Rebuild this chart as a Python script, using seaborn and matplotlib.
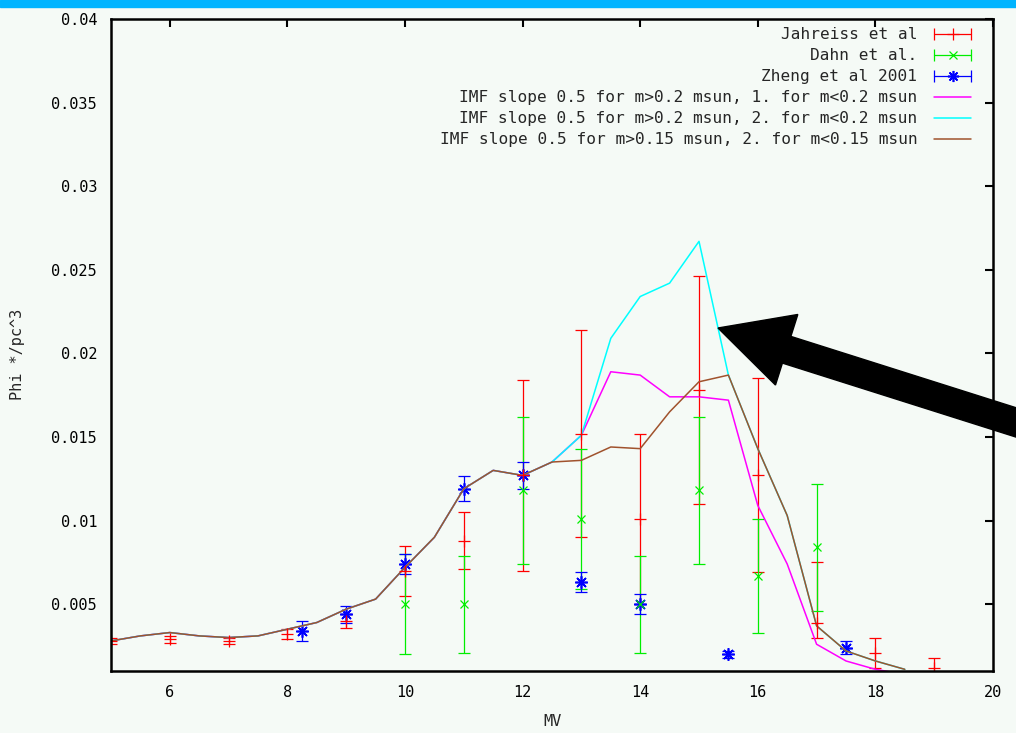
import matplotlib
matplotlib.use("Agg")
import matplotlib.pyplot as plt
import seaborn as sns
import pandas as pd
from matplotlib.lines import Line2D
from matplotlib.legend_handler import HandlerLine2D, HandlerTuple
from matplotlib.patches import FancyArrow, Rectangle
from matplotlib.transforms import IdentityTransform

# ---------------- data ----------------
mv_model = [5, 5.5, 6, 6.5, 7, 7.5, 8, 8.5, 9, 9.5, 10, 10.5, 11, 11.5, 12, 12.5,
            13, 13.5, 14, 14.5, 15, 15.5, 16, 16.5, 17, 17.5, 18, 18.5]
imf_015_2 = [0.0028, 0.0031, 0.0033, 0.0031, 0.0030, 0.0031, 0.0035, 0.0039, 0.0047, 0.0053,
             0.0072, 0.0090, 0.0119, 0.0130, 0.0127, 0.0135, 0.0136, 0.0144, 0.0143, 0.0165,
             0.0183, 0.0187, 0.0143, 0.0103, 0.0037, 0.0022, 0.0016, 0.0011]
imf_02_2 = [0.0028, 0.0031, 0.0033, 0.0031, 0.0030, 0.0031, 0.0035, 0.0039, 0.0047, 0.0053,
            0.0072, 0.0090, 0.0119, 0.0130, 0.0127, 0.0135, 0.0151, 0.0209, 0.0234, 0.0242,
            0.0267, 0.0187, 0.0143, 0.0103, 0.0037, 0.0022, 0.0016, 0.0011]
imf_02_1 = [0.0028, 0.0031, 0.0033, 0.0031, 0.0030, 0.0031, 0.0035, 0.0039, 0.0047, 0.0053,
            0.0072, 0.0090, 0.0119, 0.0130, 0.0127, 0.0135, 0.0151, 0.0189, 0.0187, 0.0174,
            0.0174, 0.0172, 0.0109, 0.0074, 0.0026, 0.0016, 0.0011, 0.0008]

jah_x = [5, 6, 7, 8, 9, 10, 11, 12, 13, 14, 15, 16, 17, 18, 19]
jah_y = [0.0028, 0.0029, 0.0028, 0.0032, 0.0040, 0.0070, 0.0088, 0.0127, 0.0152, 0.0101,
         0.0178, 0.0127, 0.0039, 0.0021, 0.0012]
jah_lo = [0.0002, 0.0002, 0.0002, 0.0003, 0.0004, 0.0015, 0.0017, 0.0057, 0.0062, 0.0051,
          0.0068, 0.0058, 0.0009, 0.0009, 0.0006]
jah_hi = [0.0002, 0.0002, 0.0002, 0.0003, 0.0004, 0.0015, 0.0017, 0.0057, 0.0062, 0.0051,
          0.0068, 0.0058, 0.0036, 0.0009, 0.0006]

dahn_x = [10, 11, 12, 13, 14, 15, 16, 17]
dahn_y = [0.0050, 0.0050, 0.0118, 0.0101, 0.0050, 0.0118, 0.0067, 0.0084]
dahn_err = [0.0030, 0.0029, 0.0044, 0.0042, 0.0029, 0.0044, 0.0034, 0.0038]

zheng_x = [8.25, 9, 10, 11, 12, 13, 14, 15.5, 17.5]
zheng_y = [0.0034, 0.0044, 0.0074, 0.0119, 0.0127, 0.0063, 0.0050, 0.0020, 0.0024]
zheng_err = [0.0006, 0.0005, 0.0006, 0.00075, 0.0008, 0.0006, 0.0006, 0.0002, 0.0004]

x_ticks = [6, 8, 10, 12, 14, 16, 18, 20]
y_ticks = [0.005, 0.01, 0.015, 0.02, 0.025, 0.03, 0.035, 0.04]
y_tick_labels = ["0.005", "0.01", "0.015", "0.02", "0.025", "0.03", "0.035", "0.04"]

labels = ["Jahreiss et al", "Dahn et al.", "Zheng et al 2001",
          "IMF slope 0.5 for m>0.2 msun, 1. for m<0.2 msun",
          "IMF slope 0.5 for m>0.2 msun, 2. for m<0.2 msun",
          "IMF slope 0.5 for m>0.15 msun, 2. for m<0.15 msun"]

# ---------------- style ----------------
sns.set_style("white")
BG = "#f5faf6"
plt.rcParams["font.family"] = ["DejaVu Sans Mono", "DejaVu Sans"]
plt.rcParams["font.size"] = 11

RED, GREEN, BLUE = "#ff0000", "#00ee00", "#0000ff"
MAG, CYAN, BROWN = "#ff00ff", "#00ffff", "#a0522d"

fig = plt.figure(figsize=(10.16, 7.33), dpi=100, facecolor=BG)
fig.add_artist(Rectangle((0, 1 - 7 / 733), 1, 7 / 733, transform=fig.transFigure,
                         color="#00b4ff", zorder=5))
ax = fig.add_axes([111 / 1016, 62 / 733, 882 / 1016, 652 / 733])
ax.set_facecolor(BG)

eb_kw = dict(capsize=4, elinewidth=0.9, capthick=0.9, mew=0.9, ls="none")
ax.errorbar(jah_x, jah_y, yerr=[jah_lo, jah_hi], fmt="+", color=RED, ms=8, **eb_kw)
ax.errorbar(dahn_x, dahn_y, yerr=dahn_err, fmt="x", color=GREEN, ms=6, **eb_kw)
ax.errorbar(zheng_x, zheng_y, yerr=zheng_err, fmt="none", color=BLUE, **eb_kw)
ax.plot(zheng_x, zheng_y, ls="none", marker=(8, 2, 0), ms=9, mew=1.2, color=BLUE)

models = pd.DataFrame({"MV": mv_model, "m1": imf_02_1, "m2": imf_02_2, "m3": imf_015_2})
sns.lineplot(data=models, x="MV", y="m1", color=MAG, lw=1.1, ax=ax, legend=False)
sns.lineplot(data=models, x="MV", y="m2", color=CYAN, lw=1.1, ax=ax, legend=False)
sns.lineplot(data=models, x="MV", y="m3", color=BROWN, lw=1.1, ax=ax, legend=False)

ax.set_xlim(5, 20)
ax.set_ylim(0.001, 0.04)
ax.set_xticks(x_ticks)
ax.set_xticklabels([str(t) for t in x_ticks])
ax.set_yticks(y_ticks)
ax.set_yticklabels(y_tick_labels)
ax.tick_params(direction="in", length=6, width=1.5, top=True, right=True,
               labelsize=11, colors="black")
ax.tick_params(axis="x", pad=10)
ax.tick_params(axis="y", pad=10)
for s in ax.spines.values():
    s.set_visible(True)
    s.set_linewidth(1.8)
    s.set_color("black")

ax.set_xlabel("MV", fontsize=11)
ax.set_ylabel("Phi */pc^3", fontsize=11)
ax.xaxis.set_label_coords(0.5, -0.066)
ax.yaxis.set_label_coords(-0.097, 0.485)

# legend (gnuplot style: text right, sample to the right)
def eb_handle(c, m, ms, mew=0.9):
    caps = Line2D([], [], color=c, lw=0.9, marker="|", ms=8, mew=0.9)
    ctr = Line2D([], [], color=c, ls="none", marker=m, ms=ms, mew=mew)
    return (caps, ctr), ctr

h1, c1 = eb_handle(RED, "+", 8)
h2, c2 = eb_handle(GREEN, "x", 6)
h3, c3 = eb_handle(BLUE, (8, 2, 0), 8, 1.2)
h4 = Line2D([], [], color=MAG, lw=1.1)
h5 = Line2D([], [], color=CYAN, lw=1.1)
h6 = Line2D([], [], color=BROWN, lw=1.1)
hmap = {tuple: HandlerTuple(ndivide=1, pad=0)}
for c in (c1, c2, c3):
    hmap[c] = HandlerLine2D(numpoints=1)
ax.legend([h1, h2, h3, h4, h5, h6], labels, loc="upper right",
          bbox_to_anchor=(0.981, 0.987), frameon=False, markerfirst=False,
          numpoints=2, handlelength=2.9, handletextpad=0.75, labelspacing=0.37,
          borderpad=0, borderaxespad=0, fontsize=11.6, handler_map=hmap)

# annotation arrow (figure pixels)
tip = (718, 733 - 328)
tail = (1040, 733 - 430)
arr = FancyArrow(tail[0], tail[1], tip[0] - tail[0], tip[1] - tail[1], width=28,
                 head_width=74, head_length=72, length_includes_head=True,
                 color="black", transform=IdentityTransform(), clip_on=False, zorder=10)
fig.add_artist(arr)

fig.savefig("out.png", dpi=100, facecolor=BG)
